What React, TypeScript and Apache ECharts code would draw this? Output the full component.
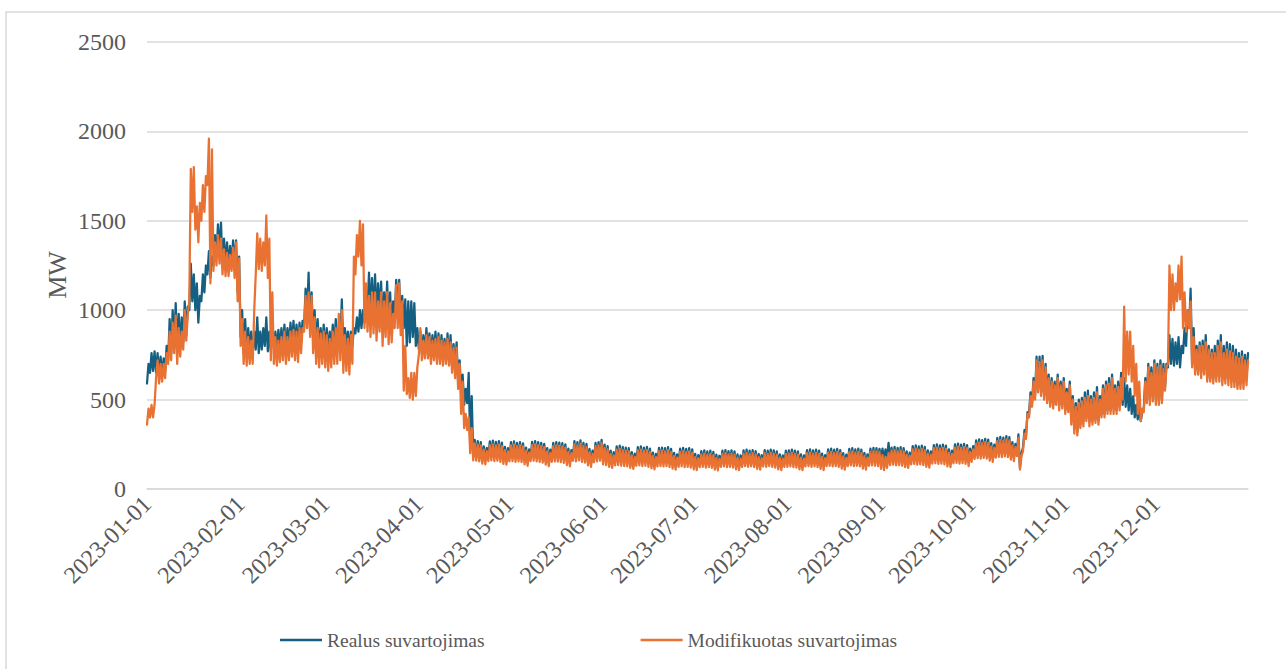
import React, { useEffect, useRef } from "react";
import * as echarts from "echarts";

// Daily high / low readings (MW), one value per day of 2023 (365 days)
const realHigh = [
  // Jan
  700,760,770,760,740,730,800,950,1000,1040,980,960,1050,1020,1260,1200,1150,1080,1200,1250,1330,1300,1420,1480,1490,1400,1380,1360,1390,1390,1300,
  // Feb
  1000,950,900,880,880,960,880,900,960,880,900,880,890,900,920,900,930,940,920,930,940,1120,1210,1100,1000,950,900,920,
  // Mar
  900,880,920,950,900,1060,900,880,880,900,960,1000,1000,1070,1210,1180,1200,1150,1160,1100,1160,1100,1050,1170,1170,1080,1060,1050,1050,1040,900,
  // Apr
  880,860,900,870,860,880,870,860,840,870,860,810,820,720,640,560,650,520,275,268,262,238,230,266,270,264,268,260,236,228,
  // May
  262,266,258,262,255,232,222,264,268,262,258,252,228,220,258,262,260,256,250,226,218,268,262,272,258,252,224,214,258,262,275,
  // Jun
  248,240,214,206,238,242,236,232,228,206,198,234,238,232,236,226,204,196,230,232,228,234,224,202,194,226,230,224,228,222,
  // Jul
  196,190,212,216,210,214,208,192,186,214,218,212,216,210,194,188,216,220,214,218,212,196,190,218,214,220,216,210,194,188,214,
  // Aug
  216,220,214,210,194,188,218,222,216,220,214,198,190,222,226,220,224,218,200,192,224,228,222,226,220,202,194,226,230,228,224,
  // Sep
  226,222,258,232,236,230,234,228,210,204,240,244,238,242,236,216,210,246,250,244,248,242,222,214,250,254,248,252,246,226,
  // Oct
  240,272,278,274,280,276,256,248,286,292,288,296,290,262,252,305,200,330,430,540,620,740,740,745,700,640,620,600,640,600,620,
  // Nov
  560,600,520,480,500,510,540,550,520,540,570,520,580,600,620,640,580,600,650,620,580,560,520,470,450,430,620,700,680,720,
  // Dec
  700,720,700,700,860,840,820,850,800,900,1000,1120,900,800,820,830,860,800,780,800,830,860,800,820,810,800,780,760,770,750,760,
];

const realLow = [
  // Jan
  590,650,660,650,640,630,660,720,760,800,780,800,820,860,1000,1050,1000,930,1050,1100,1200,1180,1250,1300,1320,1240,1250,1230,1260,1250,1100,
  // Feb
  850,760,760,780,760,780,760,780,800,770,770,800,780,790,800,780,800,810,800,790,820,900,960,900,840,800,760,780,
  // Mar
  760,760,780,800,790,820,780,800,780,800,870,880,900,930,1000,980,950,950,980,920,950,900,880,950,980,900,900,800,820,850,800,
  // Apr
  780,760,760,770,740,760,740,730,720,720,710,690,680,600,540,470,480,250,185,182,178,165,160,180,184,180,182,176,162,158,
  // May
  176,178,174,176,172,158,150,178,180,176,174,170,156,148,174,176,175,172,168,154,146,180,176,182,174,170,152,144,172,176,180,
  // Jun
  162,158,146,140,156,158,154,152,150,140,134,154,156,152,154,148,138,132,150,152,150,152,146,136,130,148,150,146,148,144,
  // Jul
  132,128,144,146,142,144,140,130,126,146,148,144,146,142,132,128,146,150,146,148,144,134,130,148,146,150,146,142,132,128,146,
  // Aug
  146,148,144,142,132,128,148,150,146,148,144,134,128,150,152,148,150,146,136,130,150,154,150,152,148,136,130,152,154,152,150,
  // Sep
  172,168,170,158,160,156,158,154,144,140,162,164,160,162,158,148,144,166,168,164,166,162,150,146,168,170,166,168,164,152,
  // Oct
  172,188,192,190,194,190,178,172,196,200,198,202,198,184,176,204,120,230,300,420,480,520,560,540,520,500,480,470,500,470,480,
  // Nov
  440,450,380,340,320,360,380,400,380,380,390,380,420,420,440,440,450,440,470,470,460,440,420,400,390,380,450,500,500,520,
  // Dec
  500,490,500,560,680,700,690,700,680,760,800,900,700,660,660,650,670,620,620,620,630,630,610,620,620,600,600,580,590,600,620,
];

const modHigh = [
  // Jan
  450,470,470,720,700,700,760,880,930,970,900,880,1000,980,1790,1800,1580,1600,1700,1750,1960,1900,1380,1420,1400,1340,1320,1310,1350,1380,1290,
  // Feb
  950,880,850,830,1000,1430,1400,1380,1530,1400,1100,850,830,850,880,850,880,890,880,900,900,1080,1100,1080,960,900,870,880,
  // Mar
  860,840,880,900,980,1000,860,840,860,1300,1420,1500,1480,1150,1080,1100,1100,1050,1100,1050,1100,1040,980,1140,1150,1050,800,620,650,650,680,
  // Apr
  900,830,860,850,830,840,850,830,820,840,820,790,790,700,600,420,400,340,255,248,244,220,212,246,250,244,248,240,218,210,
  // May
  244,248,240,244,238,214,204,246,250,244,240,234,210,202,240,244,242,238,232,208,200,250,244,254,240,234,206,196,240,244,256,
  // Jun
  230,222,196,188,220,224,218,214,210,188,180,216,220,214,218,208,186,178,212,214,210,216,206,184,176,208,212,206,210,204,
  // Jul
  178,172,194,198,192,196,190,174,168,196,200,194,198,192,176,170,198,202,196,200,194,178,172,200,196,202,198,192,176,170,196,
  // Aug
  198,202,196,192,176,170,200,204,198,202,196,180,172,204,208,202,206,200,182,174,206,210,204,208,202,184,176,208,212,210,206,
  // Sep
  190,180,200,214,218,212,216,210,192,186,222,226,220,224,218,198,192,228,232,226,230,224,204,196,232,236,230,234,228,208,
  // Oct
  222,254,260,256,262,258,238,230,268,274,270,278,272,244,234,286,185,310,420,520,600,720,710,720,680,620,600,580,620,580,600,
  // Nov
  540,580,500,460,480,490,510,520,500,510,540,500,560,580,590,620,560,570,620,1020,880,880,800,700,600,450,600,680,650,700,
  // Dec
  680,690,670,680,1250,1200,1150,1250,1300,1100,1000,1050,850,780,800,800,820,780,760,760,800,820,760,780,770,760,740,730,740,720,720,
];

const modLow = [
  // Jan
  360,400,400,620,590,600,620,700,720,760,700,740,780,830,1050,1550,1450,1380,1500,1550,1700,1150,1220,1250,1260,1200,1190,1190,1220,1180,1050,
  // Feb
  800,700,690,700,700,1200,1230,1220,1250,1180,720,700,690,710,720,700,720,740,720,710,760,880,900,850,760,700,680,700,
  // Mar
  680,660,680,700,700,720,650,660,640,700,1200,1300,1250,900,880,850,870,830,880,800,850,810,820,900,900,860,550,530,510,500,520,
  // Apr
  750,720,730,730,700,720,700,700,690,700,690,650,620,560,420,340,330,200,160,158,154,142,138,156,160,156,158,152,140,136,
  // May
  154,156,152,154,150,138,130,156,158,154,152,148,136,128,152,154,153,150,146,134,126,158,154,160,152,148,132,124,150,154,158,
  // Jun
  138,134,124,118,132,134,130,128,126,118,112,130,132,128,130,124,116,110,126,128,126,128,122,114,108,124,126,122,124,120,
  // Jul
  110,106,122,124,120,122,118,108,104,124,126,122,124,120,110,106,124,128,124,126,122,112,108,126,124,128,124,120,110,106,124,
  // Aug
  124,126,122,120,110,106,126,128,124,126,122,112,106,128,130,126,128,124,114,108,128,132,128,130,126,114,108,130,132,130,128,
  // Sep
  112,106,118,134,136,132,134,130,122,118,138,140,136,138,134,124,120,142,144,140,142,138,126,122,144,146,142,144,140,128,
  // Oct
  152,168,172,170,174,170,158,152,176,180,178,182,178,164,156,184,108,210,280,400,460,500,540,520,500,480,460,450,470,440,450,
  // Nov
  420,430,360,310,300,340,350,380,350,360,370,360,400,400,420,420,420,420,440,500,600,640,600,520,420,380,430,480,470,490,
  // Dec
  470,470,480,550,700,1000,1000,1050,1060,900,880,900,680,640,640,620,640,600,600,590,600,600,580,590,580,570,570,560,560,560,580,
];

const seriesNames = ["Realus suvartojimas", "Modifikuotas suvartojimas"];
const yTicks = { min: 0, max: 2500, interval: 500 };
const axisName = "MW";

function pad(n: number) {
  return n < 10 ? "0" + n : "" + n;
}

function buildCategories(days: number) {
  const out: string[] = [];
  const start = Date.UTC(2023, 0, 1);
  for (let d = 0; d < days; d++) {
    const dt = new Date(start + d * 86400000);
    const ds = `${dt.getUTCFullYear()}-${pad(dt.getUTCMonth() + 1)}-${pad(dt.getUTCDate())}`;
    out.push(ds);
    out.push(ds + " 12:00");
  }
  return out;
}

function interleave(low: number[], high: number[]) {
  const out: number[] = [];
  for (let i = 0; i < low.length; i++) {
    out.push(low[i]);
    out.push(high[i]);
  }
  return out;
}

export default function App() {
  const ref = useRef<HTMLDivElement>(null);
  useEffect(() => {
    if (!ref.current) return;
    const chart = echarts.init(ref.current, undefined, { renderer: "svg" });
    const cats = buildCategories(realHigh.length);
    const font = "'Liberation Serif', 'Times New Roman', serif";
    chart.setOption({
      animation: false,
      backgroundColor: "#ffffff",
      textStyle: { fontFamily: font },
      grid: { left: 147, right: 38, top: 42, bottom: 180, containLabel: false },
      legend: {
        left: 275,
        top: 625,
        icon: "rect",
        itemWidth: 42,
        itemHeight: 2.5,
        itemGap: 156,
        textStyle: { fontFamily: font, fontSize: 19.5, color: "#595959" },
        data: seriesNames,
      },
      xAxis: {
        type: "category",
        boundaryGap: false,
        data: cats,
        axisLine: { show: true, lineStyle: { color: "#d9d9d9", width: 1.5 } },
        axisTick: { show: false },
        axisLabel: {
          interval: (idx: number, val: string) => val.length === 10 && val.endsWith("-01"),
          rotate: 45,
          margin: 11,
          fontFamily: font,
          fontSize: 24,
          color: "#595959",
          hideOverlap: false,
        },
        splitLine: { show: false },
      },
      yAxis: {
        type: "value",
        min: yTicks.min,
        max: yTicks.max,
        interval: yTicks.interval,
        axisLine: { show: false },
        axisTick: { show: false },
        axisLabel: {
          margin: 21,
          fontFamily: font,
          fontSize: 24,
          color: "#595959",
          formatter: (v: number) => String(v),
        },
        splitLine: { lineStyle: { color: "#d9d9d9", width: 1.5 } },
      },
      graphic: [
        {
          type: "rect",
          shape: { x: 6, y: 12, width: 1290, height: 670 },
          style: { fill: "none", stroke: "#d9d9d9", lineWidth: 1.5 },
          silent: true,
          z: -1,
        },
        {
          type: "text",
          x: 57,
          y: 275,
          rotation: Math.PI / 2,
          style: {
            text: axisName,
            font: `26px ${font}`,
            fill: "#595959",
            align: "center",
            verticalAlign: "middle",
          },
        },
      ],
      series: [
        {
          name: seriesNames[0],
          type: "line",
          data: interleave(realLow, realHigh),
          showSymbol: false,
          symbol: "none",
          lineStyle: { color: "#156082", width: 2.25, join: "round", cap: "round" },
          itemStyle: { color: "#156082" },
          z: 2,
        },
        {
          name: seriesNames[1],
          type: "line",
          data: interleave(modLow, modHigh),
          showSymbol: false,
          symbol: "none",
          lineStyle: { color: "#E97132", width: 2.25, join: "round", cap: "round" },
          itemStyle: { color: "#E97132" },
          z: 3,
        },
      ],
    });
    return () => chart.dispose();
  }, []);
  return (
    <div
      ref={ref}
      style={{ position: "absolute", left: 0, top: 0, width: 1286, height: 669 }}
    />
  );
}
